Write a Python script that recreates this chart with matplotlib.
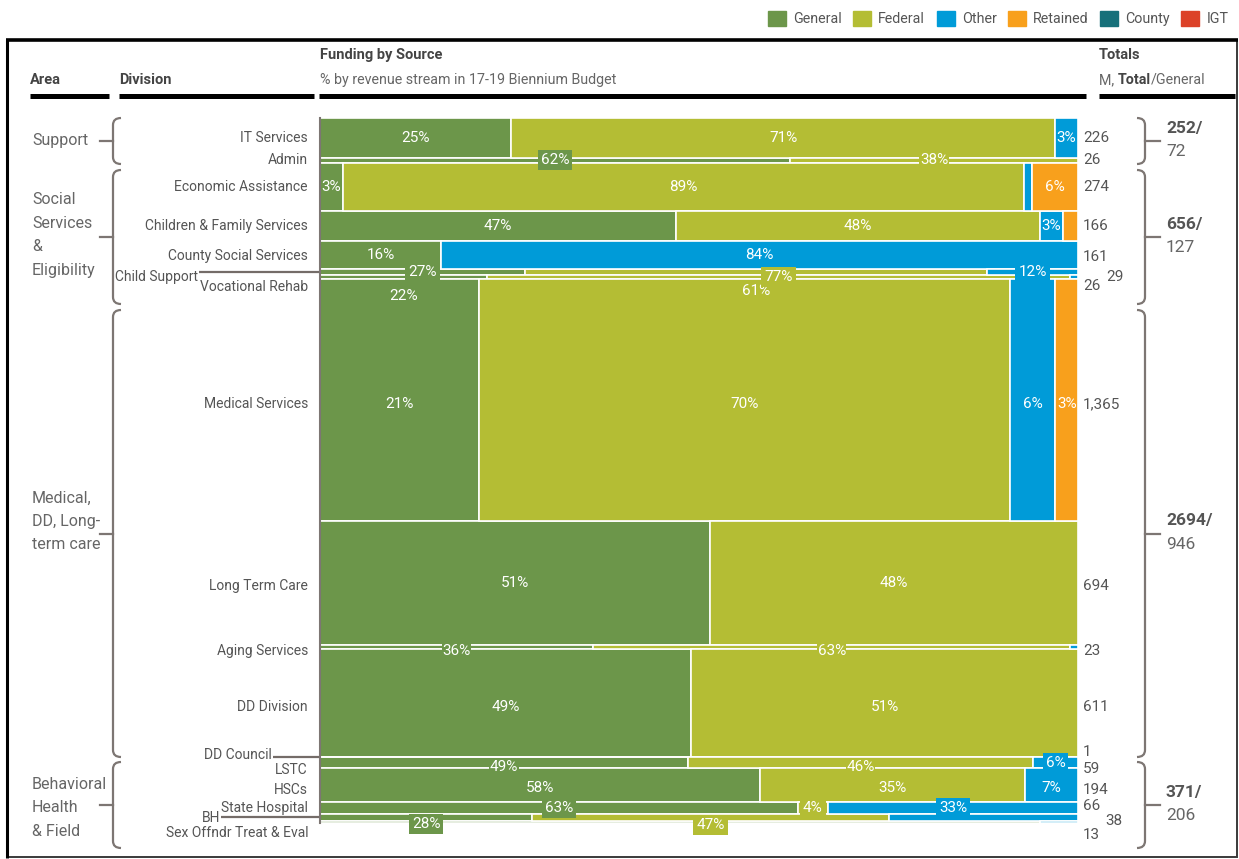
import numpy as np
import matplotlib
matplotlib.use('Agg')
import matplotlib.pyplot as plt
from matplotlib import font_manager
from matplotlib.patches import Rectangle, Patch, PathPatch
from matplotlib.path import Path

# pick a narrow font if there is one
installed = {f.name for f in font_manager.fontManager.ttflist}
narrow = next((n for n in ['Liberation Sans Narrow', 'Roboto', 'Liberation Sans']
               if n in installed), 'DejaVu Sans')
plt.rcParams['font.family'] = [narrow, 'DejaVu Sans']

W, H = 1239, 859

# ---- data ----
divisions = ['IT Services', 'Admin', 'Economic Assistance', 'Children & Family Services',
             'County Social Services', 'Child Support', 'Vocational Rehab', 'Medical Services',
             'Long Term Care', 'Aging Services', 'DD Division', 'DD Council', 'LSTC', 'HSCs',
             'State Hospital', 'BH', 'Sex Offndr Treat & Eval']
totals = [226, 26, 274, 166, 161, 29, 26, 1365, 694, 23, 611, 1, 59, 194, 66, 38, 13]
general = [25, 62, 3, 47, 16, 27, 22, 21, 51, 36, 49, 0, 49, 58, 63, 28, 95]
federal = [71, 38, 89, 48, 0, 61, 77, 70, 48, 63, 51, 100, 46, 35, 4, 47, 0]
other = [3, 0, 1, 3, 84, 12, 1, 6, 0, 1, 0, 0, 6, 7, 33, 25, 5]
retained = [0, 0, 6, 2, 0, 0, 0, 3, 0, 0, 0, 0, 0, 0, 0, 0, 0]
county = [0] * 17
igt = [0] * 17

areas = ['Support', 'Social\nServices\n&\nEligibility', 'Medical,\nDD, Long-\nterm care',
         'Behavioral\nHealth\n& Field']
area_total = [252, 656, 2694, 371]
area_general = [72, 127, 946, 206]

sources = ['General', 'Federal', 'Other', 'Retained', 'County', 'IGT']
colors = ['#6c964a', '#b4bd34', '#009bd8', '#f8a01c', '#17707a', '#dc4228']

# ---- label tweaks (pixels) ----
hidden = {('BH', 'Other'), ('Sex Offndr Treat & Eval', 'General'),
          ('Sex Offndr Treat & Eval', 'Other'), ('DD Council', 'Federal')}
boxed = {('Admin', 'General'), ('Child Support', 'General'), ('Child Support', 'Other'),
         ('Vocational Rehab', 'Federal'), ('LSTC', 'Other'), ('State Hospital', 'General'),
         ('State Hospital', 'Federal'), ('State Hospital', 'Other'), ('BH', 'General'),
         ('BH', 'Federal')}
label_dy = {('Child Support', 'Federal'): 19, ('Vocational Rehab', 'General'): 19,
            ('BH', 'General'): 7, ('BH', 'Federal'): 8, ('Medical Services', 'General'): 4,
            ('Medical Services', 'Federal'): 4, ('Medical Services', 'Other'): 4,
            ('Medical Services', 'Retained'): 4, ('Aging Services', 'General'): 4,
            ('Aging Services', 'Federal'): 4, ('LSTC', 'General'): 4, ('LSTC', 'Federal'): 4,
            ('DD Division', 'General'): 4, ('DD Division', 'Federal'): 4,
            ('HSCs', 'General'): 3, ('HSCs', 'Federal'): 3, ('HSCs', 'Other'): 3}
name_dy = {'County Social Services': 1, 'Child Support': 5, 'Vocational Rehab': 10,
           'Medical Services': 4, 'Long Term Care': 3, 'Aging Services': 4, 'DD Division': 4,
           'DD Council': -2, 'LSTC': 7, 'HSCs': 5, 'BH': 1, 'Sex Offndr Treat & Eval': 11}
name_x = {'Child Support': 198, 'DD Council': 272, 'BH': 220}
value_dy = {'County Social Services': 2, 'Child Support': 5, 'Vocational Rehab': 9,
            'Medical Services': 4, 'Long Term Care': 3, 'Aging Services': 4, 'DD Division': 4,
            'DD Council': -5, 'LSTC': 6, 'HSCs': 5, 'State Hospital': -2, 'BH': 4,
            'Sex Offndr Treat & Eval': 13}
value_x = {'Child Support': 1106, 'BH': 1105}
brace_spans = [(118, 164), (170, 304), (310, 757), (762, 848)]
area_dy = [0, -2, -12, 3]

fig = plt.figure(figsize=(W / 100, H / 100), dpi=100)
bg = fig.add_axes([0, 0, 1, 1])
bg.set_xlim(0, W)
bg.set_ylim(H, 0)
bg.axis('off')

ax = fig.add_axes([320 / W, 1 - 823 / H, 758 / W, 705 / H])
ax.patch.set_alpha(0)

values = np.array([general, federal, other, retained, county, igt], float)
shares = values / values.sum(axis=0) * 100
tops = np.concatenate([[0], np.cumsum(totals)[:-1]])
heights = np.array(totals, float)

left = np.zeros(len(divisions))
for s in range(len(sources)):
    m = shares[s] > 0
    ax.barh(tops[m], shares[s][m], left=left[m], height=heights[m], align='edge',
            color=colors[s], edgecolor='white', linewidth=1.2)
    left += shares[s]

ax.set_xlim(0, 100)
ax.set_ylim(sum(totals), 0)
ax.set_xticks([])
ax.set_yticks([])
for sp in ['top', 'right', 'bottom']:
    ax.spines[sp].set_visible(False)
ax.spines['left'].set_color('#7d7673')
ax.spines['left'].set_linewidth(1.5)

# percent labels (thin rows get a box in the segment colour)
for i, row in enumerate(divisions):
    cy = tops[i] + totals[i] / 2
    x0 = 0
    for s, src in enumerate(sources):
        w = shares[s, i]
        raw = int(values[s, i])
        key = (row, src)
        if raw >= 3 and key not in hidden:
            box = None
            if key in boxed:
                box = dict(boxstyle='square,pad=0.2', fc=colors[s], ec='none')
            elif totals[i] < 100:
                box = dict(boxstyle='square,pad=0.03', fc=colors[s], ec='none')
            ax.annotate('%d%%' % raw, (x0 + w / 2, cy), xytext=(0, -label_dy.get(key, 0) * 0.72),
                        textcoords='offset points', ha='center', va='center', color='white',
                        fontsize=11, bbox=box)
        x0 += w


def ypx(v):
    return bg.transData.inverted().transform(ax.transData.transform((0, v)))[1]


# division names, leader lines and totals on the right
for i, row in enumerate(divisions):
    cy = ypx(tops[i] + totals[i] / 2)
    nx = name_x.get(row, 308)
    bg.text(nx, cy + name_dy.get(row, 0), row, ha='right', va='center', fontsize=10,
            color='#555555')
    if row in name_x:
        bg.plot([nx + 1, 320], [cy, cy], color='#746c68', lw=1.6, solid_capstyle='butt')
    bg.text(value_x.get(row, 1083), cy + value_dy.get(row, 0), '{:,}'.format(totals[i]),
            ha='left', va='center', fontsize=11, color='#555555')


def brace(x, y0, y1, ymid, d, tick):
    verts = [(x + 8 * d, y0), (x, y0), (x, y0 + 7), (x, y1 - 7), (x, y1), (x + 8 * d, y1)]
    codes = [Path.MOVETO, Path.CURVE3, Path.CURVE3, Path.LINETO, Path.CURVE3, Path.CURVE3]
    bg.add_patch(PathPatch(Path(verts, codes), fill=False, ec='#7d7673', lw=1.6))
    bg.plot([x, tick], [ymid, ymid], color='#7d7673', lw=1.6)


for k, (y0, y1) in enumerate(brace_spans):
    ym = (y0 + y1) / 2
    brace(113, y0, y1, ym, 1, 100)
    brace(1145, y0, y1, ym, -1, 1160)
    bg.text(32, ym + area_dy[k], areas[k], ha='left', va='center', fontsize=11.5,
            color='#666666', linespacing=1.7)
    bg.text(1166, ym - 13, '%d/' % area_total[k], ha='left', va='center', fontsize=12.5,
            fontweight='bold', color='#555555')
    bg.text(1166, ym + 11, '%d' % area_general[k], ha='left', va='center', fontsize=12.5,
            color='#666666')

# header
bg.text(30, 80, 'Area', ha='left', va='center', fontsize=10.5, fontweight='bold', color='#444444')
bg.text(119, 80, 'Division', ha='left', va='center', fontsize=10.5, fontweight='bold',
        color='#444444')
bg.text(320, 55, 'Funding by Source', ha='left', va='center', fontsize=10.5, fontweight='bold',
        color='#444444')
bg.text(320, 80, '% by revenue stream in 17-19 Biennium Budget', ha='left', va='center',
        fontsize=10.3, color='#666666')
bg.text(1099, 55, 'Totals', ha='left', va='center', fontsize=10.5, fontweight='bold',
        color='#444444')
t1 = bg.text(1099, 80, 'M, ', ha='left', va='center', fontsize=10.3, color='#666666')
t2 = bg.annotate('Total', xycoords=t1, xy=(1, 0.5), va='center', fontsize=10.3, fontweight='bold',
                 color='#444444')
bg.annotate('/General', xycoords=t2, xy=(1, 0.5), va='center', fontsize=10.3, color='#666666')
for xa, xb in [(30, 109), (119, 314), (319, 1086), (1099, 1235)]:
    bg.plot([xa, xb], [96, 96], color='black', lw=3.6, solid_capstyle='butt')

# frame
bg.add_patch(Rectangle((7, 40), 1230, 817, fill=False, ec='#3a3a3a', lw=1.4))
bg.plot([6, 1238], [40, 40], color='black', lw=2.6, solid_capstyle='butt')
bg.plot([7, 7], [40, 858], color='black', lw=2.2, solid_capstyle='butt')

# legend
handles = [Patch(color=c, label=n) for n, c in zip(sources, colors)]
fig.legend(handles=handles, loc='upper right', bbox_to_anchor=(1234 / W, 1 - 5 / H), ncol=6,
           frameon=False, fontsize=10.3, handlelength=1.25, handleheight=1.25, handletextpad=0.5,
           columnspacing=0.8, borderaxespad=0, labelcolor='#555555')

fig.savefig('out.png', dpi=100)
